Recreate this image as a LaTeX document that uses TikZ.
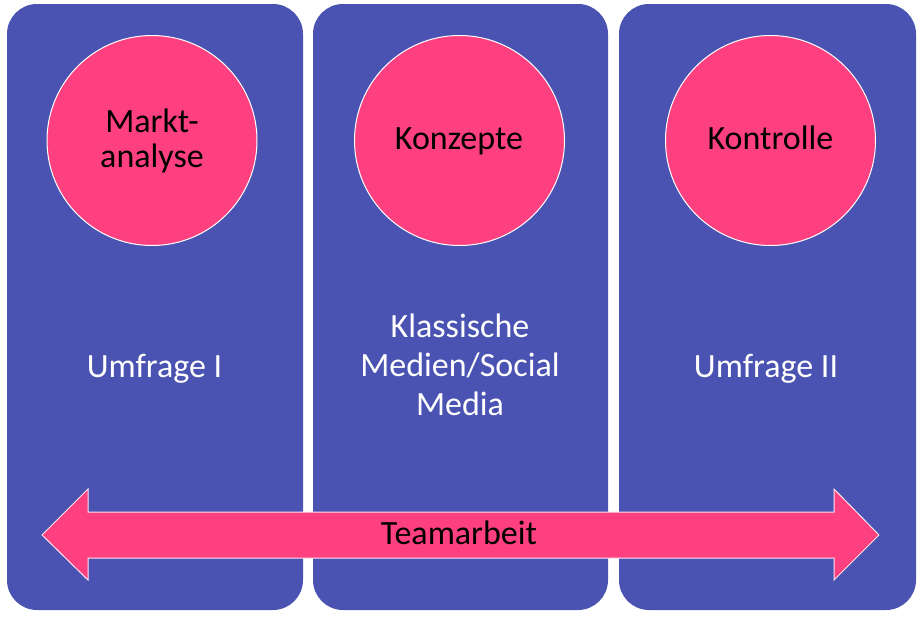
\documentclass[tikz,border=0pt]{standalone}
\usepackage{fontspec}
\setmainfont{Carlito}
\definecolor{panelblue}{RGB}{74,83,178}
\definecolor{hotpink}{RGB}{255,64,128}
\begin{document}
\begin{tikzpicture}[x=1pt,y=-1pt,
  panel/.style={fill=panelblue,draw=none,rounded corners=30pt},
  bubble/.style={circle,fill=hotpink,draw=white,line width=1pt,minimum size=210pt,inner sep=0pt},
  intext/.style={font=\fontsize{34}{35}\selectfont,text=black,align=center,anchor=base,inner sep=0pt},
  outtext/.style={font=\fontsize{34}{39}\selectfont,text=white,align=center,anchor=base,inner sep=0pt},
  arrowshape/.style={fill=hotpink,draw=white!85!hotpink,line width=1pt,line join=miter}]
\useasboundingbox (0,0) rectangle (920,616);
\fill[white] (0,0) rectangle (920,616);
% panels
\path[panel] (7,4) rectangle (303,610);
\path[panel] (313,4) rectangle (608,610);
\path[panel] (619,4) rectangle (916,610);
% circles
\node[bubble] (c1) at (152,140.5) {};
\node[bubble] (c2) at (459.5,140.5) {};
\node[bubble] (c3) at (770.5,140.5) {};
\node[intext] (t1) at (152,167) {Markt-\\analyse};
\node[intext] (t2) at (459,149) {Konzepte};
\node[intext] (t3) at (770.5,149) {Kontrolle};
% labels
\node[outtext] (l1) at (154.5,377) {Umfrage I};
\node[outtext] (l2) at (460,415.5) {Klassische\\Medien/Social\\Media};
\node[outtext] (l3) at (766,377) {Umfrage II};
% double arrow
\draw[arrowshape] (42,535) -- (88,489) -- (88,512) -- (834,512) -- (834,489) -- (879,535)
  -- (834,580) -- (834,558) -- (88,558) -- (88,580) -- cycle;
\node[intext] (team) at (459,544) {Teamarbeit};
\end{tikzpicture}
\end{document}
